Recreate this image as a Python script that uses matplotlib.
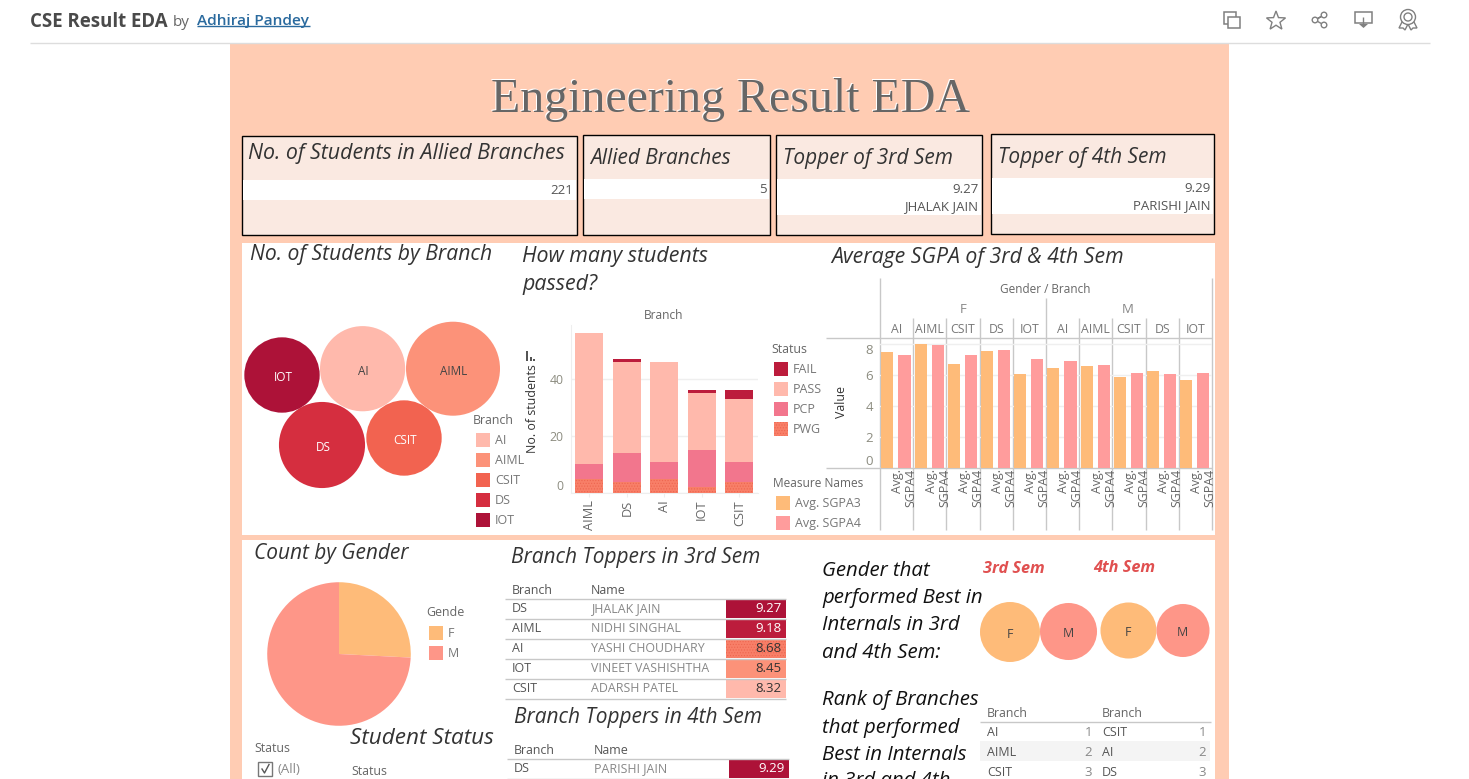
import numpy as np
import matplotlib
matplotlib.use("Agg")
import matplotlib.pyplot as plt
from matplotlib.patches import Rectangle, Circle, Polygon

plt.rcParams['font.family'] = ['Open Sans', 'DejaVu Sans']
plt.rcParams['hatch.linewidth'] = 0.5

# data
branches = ["AI", "AIML", "CSIT", "DS", "IOT"]
branch_counts = [46, 56, 36, 47, 36]

bar_branches = ["AIML", "DS", "AI", "IOT", "CSIT"]
pwg = [5, 4, 5, 2, 4]
pcp = [5, 10, 6, 13, 7]
passed = [46, 32, 35, 20, 22]
fail = [0, 1, 0, 1, 3]
status_names = ["FAIL", "PASS", "PCP", "PWG"]

panes = ["AI", "AIML", "CSIT", "DS", "IOT"] * 2
sgpa3 = [7.48, 8.0, 6.7, 7.54, 6.06, 6.44, 6.57, 5.86, 6.25, 5.67]
sgpa4 = [7.28, 7.93, 7.28, 7.6, 7.03, 6.9, 6.64, 6.12, 6.06, 6.12]

gender_names = ["F", "M"]
gender_counts = [57, 164]
gender_scores = [36.0, 32.5, 31.4, 28.1]

top3_branch = ["DS", "AIML", "AI", "IOT", "CSIT"]
top3_name = ["JHALAK JAIN", "NIDHI SINGHAL", "YASHI CHOUDHARY", "VINEET VASHISHTHA", "ADARSH PATEL"]
top3_val = [9.27, 9.18, 8.68, 8.45, 8.32]
top4_branch = ["DS"]
top4_name = ["PARISHI JAIN"]
top4_val = [9.29]

rank_left = ["AI", "AIML", "CSIT"]
rank_right = ["CSIT", "AI", "DS"]
rank_num = [1, 2, 3]

# colours
PEACH = "#FFCCB3"
KPI = "#FAE9E1"
C_AI, C_AIML, C_CSIT, C_DS, C_IOT = "#FFB9AC", "#FC9279", "#F26350", "#D52E3F", "#AD1238"
branch_cols = [C_AI, C_AIML, C_CSIT, C_DS, C_IOT]
C_FAIL, C_PASS, C_PCP, C_PWG = "#BC1C3C", "#FFB9AC", "#F2768D", "#F87F68"
C_S3, C_S4 = "#FEBB79", "#FF9C9C"
C_F, C_M = "#FEBB79", "#FE9688"
GREY = "#666666"
TITLE = "#333333"
LINE = "#C8C8C8"
DOTS = "#EE6650"

W, H = 1469, 779
fig = plt.figure(figsize=(W / 100, H / 100), dpi=100, facecolor="white")

bg = fig.add_axes([0, 0, 1, 1])
bg.set_xlim(0, W)
bg.set_ylim(H, 0)
bg.axis("off")


def px_axes(x0, y0, x1, y1):
    ax = fig.add_axes([x0 / W, 1 - y1 / H, (x1 - x0) / W, (y1 - y0) / H])
    ax.patch.set_alpha(0)
    return ax


def rect(x0, y0, x1, y1, fc, ec="none", lw=0, **kw):
    bg.add_patch(Rectangle((x0, y0), x1 - x0, y1 - y0, fc=fc, ec=ec, lw=lw, **kw))


def txt(x, y, s, size=9, color=GREY, ha="left", va="center_baseline", **kw):
    return bg.text(x, y - 1, s, fontsize=size, color=color, ha=ha, va=va, **kw)


def head(x, y, s, size=15, color=TITLE):
    txt(x, y, s, size=size, color=color, style="italic")


def hline(x0, x1, y, color=LINE, lw=1):
    bg.plot([x0, x1], [y, y], color=color, lw=lw, solid_capstyle="butt")


def vline(x, y0, y1, color=LINE, lw=1):
    bg.plot([x, x], [y0, y1], color=color, lw=lw, solid_capstyle="butt")


# page header
txt(30, 20, "CSE Result EDA", size=13.4, color="#4A4A4A", weight="bold")
txt(173, 21, "by", size=11, color=GREY)
txt(197, 20, "Adhiraj Pandey", size=11.1, color="#2A6A9E", weight="semibold")
hline(197, 310, 26, color="#2A6A9E")
hline(30, 1430, 42.5, color="#DDDDDD")

# toolbar icons
ic = "#808080"
rect(1224, 12, 1236, 24, "white", ec=ic, lw=1.1)
rect(1228, 17, 1240, 28, "white", ec=ic, lw=1.1)
ang = np.pi / 2 + np.arange(10) * np.pi / 5
rad = np.where(np.arange(10) % 2 == 0, 10, 4.2)
bg.add_patch(Polygon(np.c_[1276 + rad * np.cos(ang), 21 - rad * np.sin(ang)], fc="white", ec=ic, lw=1))
bg.plot([1315, 1324, 1315, 1324], [20, 15, 20, 25], color=ic, lw=1)
for cx, cy in [(1315, 20), (1324, 15), (1324, 25)]:
    bg.add_patch(Circle((cx, cy), 2.8, fc="white", ec=ic, lw=1, zorder=3))
rect(1355, 12, 1372, 23, "white", ec=ic, lw=1.1)
vline(1363.5, 17, 25, color=ic)
bg.add_patch(Polygon([[1359, 24], [1368, 24], [1363.5, 28]], fc=ic, ec="none", zorder=3))
bg.add_patch(Polygon([[1402, 22], [1399, 28], [1403, 28], [1405, 30], [1408, 24]], fc="white", ec=ic, lw=1))
bg.add_patch(Polygon([[1414, 22], [1417, 28], [1413, 28], [1411, 30], [1408, 24]], fc="white", ec=ic, lw=1))
bg.add_patch(Circle((1408, 17), 7.5, fc="white", ec=ic, lw=1))
bg.add_patch(Circle((1408, 17), 4, fc="white", ec=ic, lw=1))

# dashboard background
rect(230, 43, 1229, 779, PEACH)
rect(242, 243, 1215, 535, "white")
rect(242, 540, 1215, 779, "white")

txt(729.5, 95, "Engineering Result EDA", size=34.5, color="white", ha="center", family="Liberation Serif")
txt(731, 96, "Engineering Result EDA", size=34.5, color="#666666", ha="center", family="Liberation Serif")

# KPI cards
cards = [
    (242, 136, 577.5, 235, 180, 200, "No. of Students in Allied Branches", 152, ["221"], 15.4),
    (583.5, 135, 770.5, 235, 179, 199, "Allied Branches", 157, ["5"], 15),
    (776.5, 135, 982.5, 235, 179, 215, "Topper of 3rd Sem", 157, ["9.27", "JHALAK JAIN"], 15),
    (991.5, 134, 1214.5, 234, 178, 214, "Topper of 4th Sem", 156, ["9.29", "PARISHI JAIN"], 15),
]
for x0, y0, x1, y1, b0, b1, title, ty, vals, fs in cards:
    rect(x0, y0, x1, y1, KPI, ec="black", lw=1)
    rect(x0 + 1, b0, x1 - 1, b1, "white")
    head(x0 + 6.5, ty, title, size=fs)
    for i, v in enumerate(vals):
        txt(x1 - 4, b0 + 10 + i * 17, v, size=9.5, color="#555555", ha="right")

# bubbles, sized by count
head(250, 253, "No. of Students by Branch", size=15.2)
bub = px_axes(242, 300, 512, 510)
bub.set_xlim(242, 512)
bub.set_ylim(510, 300)
bub.axis("off")
bub_pos = {"AI": (362.6, 368.7), "AIML": (453, 368.7), "CSIT": (404, 438), "DS": (322, 445), "IOT": (282, 375)}
for name, count, col in zip(branches, branch_counts, branch_cols):
    cx, cy = bub_pos[name]
    d = 12.56 * np.sqrt(count)
    bub.add_patch(Circle((cx, cy), d / 2, fc=col, ec="none"))
    bub.text(cx + 1, cy + 1, name, fontsize=8.5, ha="center", va="center_baseline",
             color="white" if name in ("IOT", "DS", "CSIT") else "#444444")

txt(473, 420, "Branch", size=8.9)
for i, (name, col) in enumerate(zip(branches, branch_cols)):
    rect(476, 433 + i * 20, 490, 447 + i * 20, col)
    txt(495, 440 + i * 20, name, color="#777777")

# stacked bars
head(522, 255, "How many students", size=15.4)
head(522, 283, "passed?", size=15.4)
txt(664, 315, "Branch", size=8.6, ha="center")

ax = px_axes(570.5, 325, 758, 493)
x = np.arange(len(bar_branches))
pwg_a, pcp_a, pass_a, fail_a = map(np.array, (pwg, pcp, passed, fail))
ax.bar(x, pwg_a, 0.745, color=C_PWG, hatch="......", edgecolor=DOTS, linewidth=0, zorder=3)
ax.bar(x, pcp_a, 0.745, bottom=pwg_a, color=C_PCP, zorder=3)
ax.bar(x, pass_a, 0.745, bottom=pwg_a + pcp_a, color=C_PASS, zorder=3)
ax.bar(x, fail_a, 0.745, bottom=pwg_a + pcp_a + pass_a, color=C_FAIL, zorder=3)
ax.set_xlim(-0.5, 4.5)
ax.set_ylim(0, 58.9)
ax.set_yticks([0, 20, 40])
ax.set_yticklabels(["0", "20", "40"], fontsize=8.8, color="#8C8C80")
ax.get_yticklabels()[0].set_verticalalignment("bottom")
ax.set_xticks(x)
ax.set_xticklabels(bar_branches, rotation=90, fontsize=9.2, color="#666666")
ax.tick_params(axis="y", length=0, pad=5)
ax.tick_params(axis="x", length=3, color="#EEEEEE", pad=2)
ax.grid(axis="y", color="#EFEFEF", lw=1, zorder=0)
for side in ("top", "right"):
    ax.spines[side].set_visible(False)
ax.spines["left"].set_color("#EEEEEE")
ax.spines["bottom"].set_color("#EEEEEE")

txt(533, 410, "No. of students", size=8.9, color="#333333", rotation=90, ha="center", va="center")
for bx, by in [(526.5, 351), (530, 357), (533.5, 359)]:
    rect(bx, by, bx + 1.6, 361, "#555555")

txt(771, 349, "Status", size=8.9)
for i, (name, col) in enumerate(zip(status_names, [C_FAIL, C_PASS, C_PCP, C_PWG])):
    if name == "PWG":
        rect(774, 362 + i * 20, 788, 376 + i * 20, col, ec=DOTS, hatch="......")
    else:
        rect(774, 362 + i * 20, 788, 376 + i * 20, col)
    txt(793, 369 + i * 20, name, color="#777777")

txt(773, 483, "Measure Names", size=8.6)
for i, (name, col) in enumerate(zip(["Avg. SGPA3", "Avg. SGPA4"], [C_S3, C_S4])):
    rect(776, 496 + i * 20, 790, 510 + i * 20, col)
    txt(795, 503 + i * 20, name, color="#777777")

# SGPA bars by gender and branch
head(831, 256, "Average SGPA of 3rd & 4th Sem", size=15.3)
sx = px_axes(880, 338, 1212, 467.7)
p = np.arange(len(panes))
sx.bar(p + 0.222, sgpa3, 0.364, color=C_S3, zorder=3)
sx.bar(p + 0.737, sgpa4, 0.364, color=C_S4, zorder=3)
sx.set_xlim(0, 10)
sx.set_ylim(0, 8.39)
sx.set_xticks([])
sx.set_yticks([0, 2, 4, 6, 8])
sx.set_yticklabels(["0", "2", "4", "6", "8"], fontsize=9.5, color="#8C8C80")
sx.get_yticklabels()[0].set_verticalalignment("bottom")
sx.get_yticklabels()[4].set_verticalalignment("top")
sx.tick_params(axis="y", length=0, pad=5)
sx.grid(axis="y", color="#EFEFEF", lw=1, zorder=0)
for spine in sx.spines.values():
    spine.set_visible(False)
for pane in p:
    sx.text(pane + 0.54, -0.1, "Avg.", rotation=90, fontsize=8.9, color="#666666",
            ha="center", va="top", clip_on=False)
    sx.text(pane + 0.94, -0.1, "SGPA4", rotation=90, fontsize=8.9, color="#666666",
            ha="center", va="top", clip_on=False)

hline(826, 1212, 338)
hline(826, 1212, 467.7)
edges = 880 + np.arange(11) * 33.2
for i, ex in enumerate(edges):
    top = 278 if i in (0, 10) else (298 if i == 5 else 318)
    vline(ex, top, 529.5)
txt(1045, 289, "Gender / Branch", size=8.5, ha="center")
txt(963, 308.5, "F", size=9.5, ha="center", color="#888888")
txt(1128, 308.5, "M", size=9.5, ha="center", color="#888888")
txt(841.5, 403, "Value", size=8.9, color="#333333", rotation=90, ha="center", va="center")
for i, name in enumerate(panes):
    txt(edges[i] + 16.6, 328.7, name, size=8.8, ha="center", color="#777777")

# gender pie
head(254, 552, "Count by Gender", size=15)
pie = px_axes(265, 580, 413, 728)
pie.pie(gender_counts, colors=[C_F, C_M], startangle=90, counterclock=False, radius=0.97)
pie.set_xlim(-1, 1)
pie.set_ylim(-1, 1)
txt(426, 612, "Gende", size=8.9)
for i, (name, col) in enumerate(zip(gender_names, [C_F, C_M])):
    rect(429, 626 + i * 20, 443, 640 + i * 20, col)
    txt(448, 633 + i * 20, name, color="#777777")

txt(254, 748, "Status", size=8.9)
rect(258.5, 762, 272, 775.5, "white", ec="#777777", lw=1)
bg.plot([262, 264.5, 269], [769, 773, 764.5], color="#555555", lw=1)
txt(278, 769, "(All)", size=9.5, color="#888888")
head(350, 737, "Student Status", size=16.2)
txt(351, 771, "Status", size=8.9)


def topper_table(xl, xn, xc0, xc1, xr, y_head, y_line, rows, cols):
    txt(xl, y_head, "Branch", size=8.9, color="#555555")
    txt(xn, y_head, "Name", size=8.9, color="#555555")
    hline(xl - 7, xr, y_line)
    for i, (b, n, v, c) in enumerate(zip(*rows, cols)):
        yc = y_line + 10 + i * 20
        if v == 8.68:
            rect(xc0, yc - 9.5, xc1, yc + 9.5, c, ec=DOTS, hatch="......")
        else:
            rect(xc0, yc - 9.5, xc1, yc + 9.5, c)
        txt(xl, yc, b, color="#555555")
        txt(xn, yc, n, size=8.9, color="#888888")
        txt(xc1 - 4, yc, f"{v:.2f}", size=9.5, ha="right",
            color="white" if v > 9 else "#333333")
        hline(xl - 7, xr, yc + 10)


head(511, 556, "Branch Toppers in 3rd Sem", size=15)
topper_table(512, 591, 726, 786, 786, 590, 598.5, (top3_branch, top3_name, top3_val),
             [C_IOT, C_FAIL, "#F87F68", C_AIML, C_AI])
head(514, 716, "Branch Toppers in 4th Sem", size=15)
topper_table(514, 594, 729, 789, 789, 750, 758.5, (top4_branch, top4_name, top4_val), [C_IOT])

# gender bubbles and rank table
for i, s in enumerate(["Gender that", "performed Best in", "Internals in 3rd", "and 4th Sem:"]):
    head(822, 570 + i * 27, s, size=14.7, color="#111111")
for i, s in enumerate(["Rank of Branches", "that performed", "Best in Internals", "in 3rd and 4th"]):
    head(822, 699 + i * 27, s, size=14.7, color="#111111")
txt(983, 568, "3rd Sem", size=11.7, color="#E05050", weight="bold", style="italic")
txt(1093, 567, "4th Sem", size=11.7, color="#E05050", weight="bold", style="italic")

gb = px_axes(975, 595, 1215, 665)
gb.set_xlim(975, 1215)
gb.set_ylim(665, 595)
gb.axis("off")
gb_pos = [(1010, 632), (1068.5, 631.5), (1128.5, 630.5), (1183, 630.5)]
for (cx, cy), score, name in zip(gb_pos, gender_scores, gender_names * 2):
    d = 10 * np.sqrt(score)
    gb.add_patch(Circle((cx, cy), d / 2, fc=C_F if name == "F" else C_M, ec="none"))
    gb.text(cx - 0.5, cy + 0.5, name, fontsize=8.9, ha="center", va="center_baseline", color="#444444")

txt(987, 713, "Branch", size=8.9)
txt(1102, 713, "Branch", size=8.9)
hline(980, 1211, 721.5)
rect(980, 741, 1210, 761, "#F4F4F4")
for i, (a, b, n) in enumerate(zip(rank_left, rank_right, rank_num)):
    yc = 732 + i * 20
    txt(987, yc, a, color="#555555")
    txt(1102, yc, b, color="#555555")
    txt(1092, yc, str(n), size=9.5, ha="right", color="#888888")
    txt(1206, yc, str(n), size=9.5, ha="right", color="#888888")

fig.savefig("out.png", dpi=100, facecolor="white")
